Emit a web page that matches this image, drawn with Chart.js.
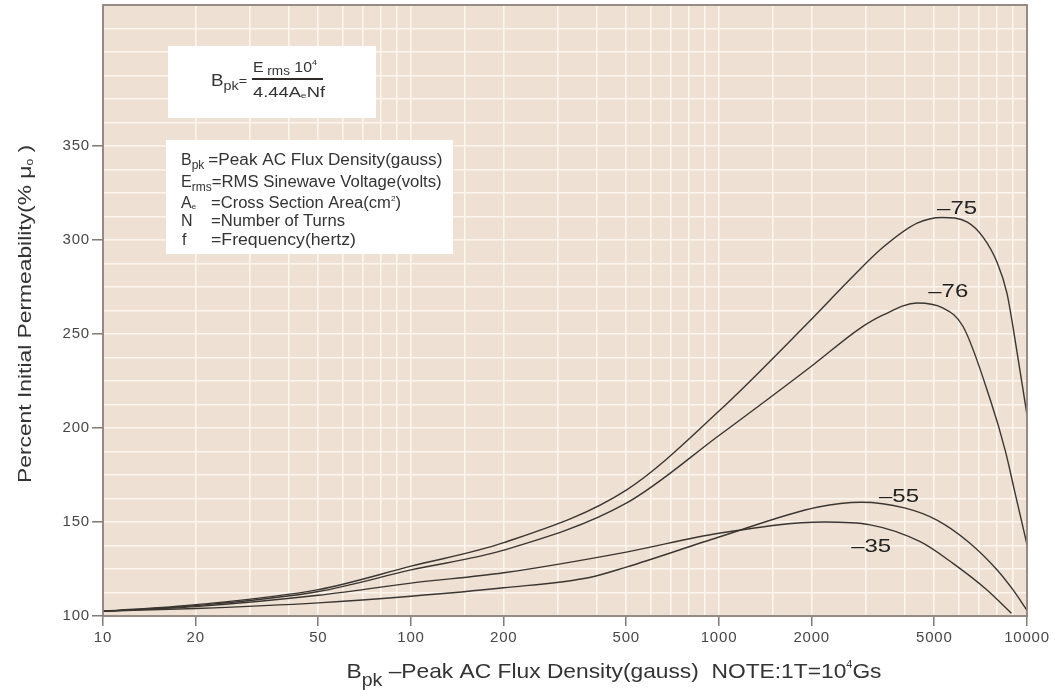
<!DOCTYPE html>
<html>
<head>
<meta charset="utf-8">
<script src="https://cdn.jsdelivr.net/npm/chart.js@4.4.1/dist/chart.umd.min.js"></script>
<style>
  html, body { margin: 0; padding: 0; background: #ffffff; }
  #wrap { width: 1055px; height: 690px; position: relative; }
</style>
</head>
<body>
<div id="wrap"><canvas id="perm" width="1055" height="690"></canvas></div>
<script>
// Peak AC flux density (gauss) and percent initial permeability for each material grade
const flux75 = [10, 20, 50, 100, 200, 500, 1000, 2000, 2660, 3400, 4400, 5300, 6400, 7200, 8000, 8600, 9000, 10000];
const perm75 = [102.5, 106, 114, 126.5, 139, 167, 209, 258, 279, 296, 309, 312, 309.5, 301.5, 288, 272, 254, 207];

const flux76 = [10, 20, 50, 100, 200, 500, 1000, 2000, 2870, 3400, 4400, 5300, 6200, 7600, 8500, 9100, 10000];
const perm76 = [102.5, 105.5, 113, 124.5, 135, 160, 196, 233, 253, 260, 266.5, 264, 254, 215, 188, 167, 138];

const flux55 = [10, 20, 50, 100, 200, 380, 500, 1000, 2100, 2900, 4000, 5100, 6500, 8000, 9000, 10000];
const perm55 = [102.5, 104, 107, 110.5, 115, 120.5, 126, 142, 158, 160.5, 157.5, 151, 139, 124.5, 114, 103];

const flux35 = [10, 20, 50, 100, 200, 500, 1000, 2200, 3100, 4500, 5750, 7400, 8900];
const perm35 = [102.5, 105, 111, 117.5, 123, 134, 144, 150, 148.5, 139.5, 128, 114, 101.5];

// Axis tick labels
const xTickLabels = [10, 20, 50, 100, 200, 500, 1000, 2000, 5000, 10000];
const yTickLabels = [100, 150, 200, 250, 300, 350];

// Curve names and the (flux, permeability) point each is centred on
const curveNames = ['\u201375', '\u201376', '\u201355', '\u201335'];
const curveNameFlux = [5930, 5550, 3840, 3120];
const curveNamePerm = [317.5, 273.5, 164.5, 138];

const FONT = '"Liberation Sans", Arial, Helvetica, sans-serif';
const INK = '#3b3531';
const TEXT = '#333333';

function pairs(xs, ys) { return xs.map((x, i) => ({ x: x, y: ys[i] })); }

function curve(xs, ys) {
  return {
    data: pairs(xs, ys),
    showLine: true,
    borderColor: INK,
    borderWidth: 1.4,
    pointRadius: 0,
    cubicInterpolationMode: 'monotone',
    fill: false
  };
}

// Draws a run of text pieces (subscripts / superscripts via dy), optionally
// stretched horizontally so the whole run spans `width` pixels.
function richText(ctx, pieces, x, y, align, width) {
  let total = 0;
  pieces.forEach(p => { ctx.font = p.size + 'px ' + FONT; total += ctx.measureText(p.t).width; });
  const sx = width ? width / total : 1;
  const span = total * sx;
  const x0 = align === 'center' ? x - span / 2 : x;
  ctx.save();
  ctx.translate(x0, y);
  ctx.scale(sx, 1);
  ctx.textAlign = 'left';
  ctx.textBaseline = 'alphabetic';
  let cx = 0;
  pieces.forEach(p => {
    ctx.font = p.size + 'px ' + FONT;
    ctx.fillText(p.t, cx, p.dy || 0);
    cx += ctx.measureText(p.t).width;
  });
  ctx.restore();
  return span;
}

const plotDecor = {
  id: 'plotDecor',
  beforeDraw(chart) {
    const { ctx, chartArea: a } = chart;
    ctx.save();
    ctx.fillStyle = '#eee1d4';
    ctx.fillRect(a.left, a.top, a.right - a.left, a.bottom - a.top);
    ctx.restore();
    // slightly airy digits for the axis tick labels
    ctx.letterSpacing = '0.8px';
  },
  beforeDatasetsDraw(chart) {
    chart.ctx.letterSpacing = '0px';
  },
  afterDraw(chart) {
    const { ctx, chartArea: a, scales } = chart;
    ctx.save();
    ctx.letterSpacing = '0px';

    // frame around the plot area
    ctx.strokeStyle = '#8a8179';
    ctx.lineWidth = 1.8;
    ctx.strokeRect(a.left, a.top, a.right - a.left, a.bottom - a.top);

    // formula box
    ctx.fillStyle = '#ffffff';
    ctx.fillRect(168, 46, 208, 72);
    ctx.fillStyle = TEXT;
    richText(ctx, [{ t: 'B', size: 17 }, { t: 'pk', size: 13, dy: 4 }, { t: '=', size: 13, dy: -1 }], 211, 86, 'left', 36);
    richText(ctx, [{ t: 'E', size: 14 }, { t: ' rms', size: 12, dy: 3 }, { t: ' 10', size: 14 }, { t: '4', size: 8, dy: -7 }], 285, 72, 'center', 64);
    ctx.strokeStyle = '#2e2a27';
    ctx.lineWidth = 2;
    ctx.beginPath(); ctx.moveTo(252, 79); ctx.lineTo(323, 79); ctx.stroke();
    richText(ctx, [{ t: '4.44A', size: 14 }, { t: 'e', size: 8, dy: 1 }, { t: 'Nf', size: 14 }], 289, 97, 'center', 72);

    // symbol legend box
    ctx.fillStyle = '#ffffff';
    ctx.fillRect(166, 140, 287, 114);
    ctx.fillStyle = TEXT;
    const L = 181, EQ = 211, s = 16;
    const rows = [165, 187, 208, 226, 245];
    let w = richText(ctx, [{ t: 'B', size: s }, { t: 'pk', size: 12, dy: 4 }], L, rows[0], 'left');
    richText(ctx, [{ t: '=Peak AC Flux Density(gauss)', size: s }], L + w + 4, rows[0], 'left', 234);
    w = richText(ctx, [{ t: 'E', size: s }, { t: 'rms', size: 12, dy: 4 }], L, rows[1], 'left');
    richText(ctx, [{ t: '=RMS Sinewave Voltage(volts)', size: s }], L + w, rows[1], 'left', 230);
    richText(ctx, [{ t: 'A', size: s }, { t: 'e', size: 8, dy: 1 }], L, rows[2], 'left');
    richText(ctx, [{ t: '=Cross Section Area(cm', size: s }, { t: '2', size: 8, dy: -7 }, { t: ')', size: s }], EQ, rows[2], 'left', 190);
    richText(ctx, [{ t: 'N', size: s }], L, rows[3], 'left');
    richText(ctx, [{ t: '=Number of Turns', size: s }], EQ, rows[3], 'left', 134);
    richText(ctx, [{ t: 'f', size: s }], L + 1, rows[4], 'left');
    richText(ctx, [{ t: '=Frequency(hertz)', size: s }], EQ, rows[4], 'left', 145);

    // curve names
    ctx.fillStyle = '#222222';
    curveNames.forEach((name, i) => {
      const px = scales.x.getPixelForValue(curveNameFlux[i]);
      const py = scales.y.getPixelForValue(curveNamePerm[i]);
      richText(ctx, [{ t: name, size: 19 }], px, py + 7, 'center', 40);
    });

    // axis titles
    ctx.fillStyle = TEXT;
    richText(ctx, [
      { t: 'B', size: 21 }, { t: 'pk', size: 18, dy: 8 },
      { t: ' \u2013Peak AC Flux Density(gauss)  NOTE:1T=10', size: 21 },
      { t: '4', size: 10, dy: -10 }, { t: 'Gs', size: 21 }
    ], 614, 678, 'center', 535);

    ctx.translate(31, 314);
    ctx.rotate(-Math.PI / 2);
    richText(ctx, [
      { t: 'Percent Initial Permeability(% \u03bc', size: 19 },
      { t: 'o', size: 10, dy: 2 }, { t: ' )', size: 19 }
    ], 0, 0, 'center', 338);

    ctx.restore();
  }
};

const chart = new Chart(document.getElementById('perm'), {
  type: 'scatter',
  data: {
    datasets: [curve(flux75, perm75), curve(flux76, perm76), curve(flux55, perm55), curve(flux35, perm35)]
  },
  options: {
    responsive: false,
    animation: false,
    layout: { padding: { left: 0, top: 5, right: 28, bottom: 0 } },
    plugins: { legend: { display: false }, tooltip: { enabled: false } },
    scales: {
      x: {
        type: 'logarithmic',
        min: 10,
        max: 10000,
        border: { display: false },
        grid: {
          color: '#fbf5ed',
          lineWidth: 1.6,
          tickLength: 10,
          tickColor: c => (c.tick && xTickLabels.includes(Math.round(c.tick.value))) ? '#6d655e' : 'rgba(0,0,0,0)',
          tickWidth: 1.3
        },
        ticks: {
          autoSkip: false,
          maxRotation: 0,
          padding: 3,
          color: '#474747',
          font: { family: FONT, size: 15 },
          callback: v => xTickLabels.includes(Math.round(v)) ? String(Math.round(v)) : ''
        },
        afterFit: s => { s.height = 74; }
      },
      y: {
        min: 100,
        max: 425,
        border: { display: false },
        grid: {
          color: '#fbf5ed',
          lineWidth: 1.6,
          tickLength: 11,
          tickColor: c => (c.tick && yTickLabels.includes(c.tick.value)) ? '#6d655e' : 'rgba(0,0,0,0)',
          tickWidth: 1.3
        },
        ticks: {
          stepSize: 12.5,
          autoSkip: false,
          padding: 2,
          color: '#474747',
          font: { family: FONT, size: 15 },
          callback: v => yTickLabels.includes(v) ? String(v) : ''
        },
        afterFit: s => { s.width = 103; s.paddingTop = 0; s.paddingBottom = 0; }
      }
    }
  },
  plugins: [plotDecor]
});
</script>
</body>
</html>
